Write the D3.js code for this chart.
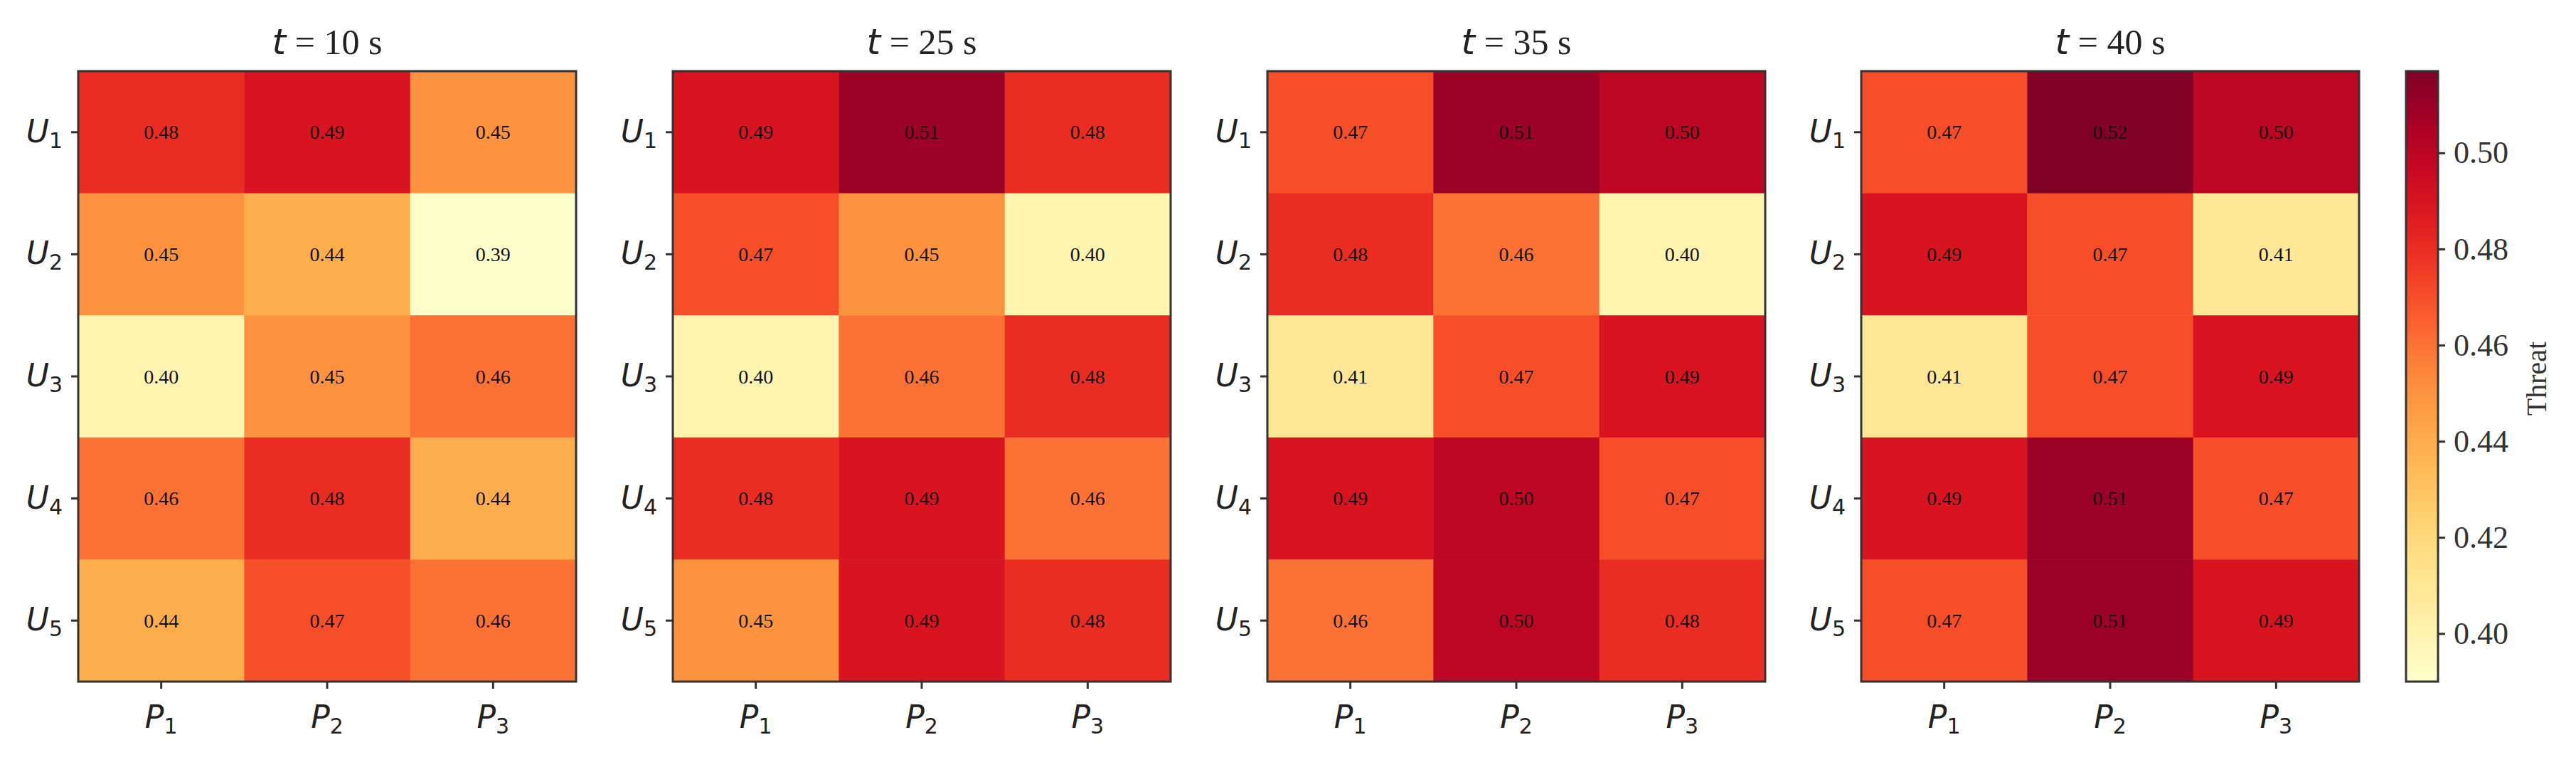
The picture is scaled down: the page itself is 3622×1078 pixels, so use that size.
<!DOCTYPE html>
<html><head><meta charset="utf-8">
<script src="https://cdn.jsdelivr.net/npm/d3@7"></script>
<style>body{margin:0;background:#fff}</style></head>
<body><svg id="c" width="3622" height="1078"></svg>
<script>
const titles = ["10", "25", "35", "40"];
const rows = ["1","2","3","4","5"];
const cols = ["1","2","3"];
const t10 = [[.48,.49,.45],[.45,.44,.39],[.40,.45,.46],[.46,.48,.44],[.44,.47,.46]];
const t25 = [[.49,.51,.48],[.47,.45,.40],[.40,.46,.48],[.48,.49,.46],[.45,.49,.48]];
const t35 = [[.47,.51,.50],[.48,.46,.40],[.41,.47,.49],[.49,.50,.47],[.46,.50,.48]];
const t40 = [[.47,.52,.50],[.49,.47,.41],[.41,.47,.49],[.49,.51,.47],[.47,.51,.49]];
const cbTicks = [0.40,0.42,0.44,0.46,0.48,0.50];
const vmin = 0.39, vmax = 0.517;
const data = [t10,t25,t35,t40];
(function(){
const svg = d3.select("#c");
const color = d3.scaleSequential(d3.interpolateYlOrRd).domain([vmin,vmax]);
const lefts = [110, 946, 1782, 2617], W = 700, top0 = 100, H = 858;
const serif = "'Liberation Serif', 'DejaVu Serif', serif";
data.forEach((m, k) => {
  const g = svg.append("g").attr("transform", `translate(${lefts[k]},${top0})`);
  const x = d3.scaleBand().domain(cols).range([0, W]);
  const y = d3.scaleBand().domain(rows).range([0, H]);
  m.forEach((r, i) => r.forEach((v, j) => {
    g.append("rect").attr("x", x(cols[j])).attr("y", y(rows[i]))
      .attr("width", x.bandwidth()+0.5).attr("height", y.bandwidth()+0.5).attr("fill", color(v));
    g.append("text").attr("x", x(cols[j]) + x.bandwidth()/2).attr("y", y(rows[i]) + y.bandwidth()/2)
      .attr("text-anchor","middle").attr("dominant-baseline","central")
      .attr("font-family", serif).attr("font-size", 28).attr("fill","#111").text(v.toFixed(2));
  }));
  g.append("rect").attr("width", W).attr("height", H).attr("fill","none").attr("stroke","#333").attr("stroke-width",3);
  const ax = g.append("g").attr("transform",`translate(0,${H})`).call(d3.axisBottom(x).tickSize(10).tickFormat(""));
  const ay = g.append("g").call(d3.axisLeft(y).tickSize(10).tickFormat(""));
  [ax, ay].forEach(a => { a.select(".domain").remove(); a.selectAll("line").attr("stroke","#333").attr("stroke-width",3); });
  cols.forEach(c => {
    const t = g.append("text").attr("x", x(c)+x.bandwidth()/2).attr("y", H+65).attr("text-anchor","middle")
      .attr("font-family","'DejaVu Sans', sans-serif").attr("font-style","italic").attr("font-size",44).attr("fill","#222");
    t.append("tspan").text("P");
    t.append("tspan").attr("font-size",30).attr("dy",8).attr("font-style","normal").text(c);
  });
  rows.forEach(r => {
    const t = g.append("text").attr("x", -22).attr("y", y(r)+y.bandwidth()/2+14).attr("text-anchor","end")
      .attr("font-family","'DejaVu Sans', sans-serif").attr("font-style","italic").attr("font-size",44).attr("fill","#222");
    t.append("tspan").text("U");
    t.append("tspan").attr("font-size",30).attr("dy",8).attr("font-style","normal").text(r);
  });
  const tt = g.append("text").attr("x", W/2).attr("y", -24).attr("text-anchor","middle")
    .attr("font-family", serif).attr("font-size", 50).attr("fill","#222");
  tt.append("tspan").attr("font-style","italic").attr("font-family","'DejaVu Sans', sans-serif").text("t");
  tt.append("tspan").text(" = " + titles[k] + " s");
});
const cbx = 3383, cbw = 45;
const cy = d3.scaleLinear().domain([vmin, vmax]).range([top0+H, top0]);
const defs = svg.append("defs");
const grad = defs.append("linearGradient").attr("id","cb").attr("x1",0).attr("y1",1).attr("x2",0).attr("y2",0);
d3.range(0,1.0001,0.05).forEach(t => grad.append("stop").attr("offset",t).attr("stop-color", color(vmin + t*(vmax-vmin))));
svg.append("rect").attr("x",cbx).attr("y",top0).attr("width",cbw).attr("height",H).attr("fill","url(#cb)").attr("stroke","#333").attr("stroke-width",3);
const cax = svg.append("g").attr("transform",`translate(${cbx+cbw},0)`).call(d3.axisRight(cy).tickValues(cbTicks).tickSize(10).tickPadding(12).tickFormat(d3.format(".2f")));
cax.select(".domain").remove();
cax.selectAll("line").attr("stroke","#333").attr("stroke-width",3);
cax.selectAll("text").attr("font-family", serif).attr("font-size",44).attr("fill","#333");
svg.append("text").attr("transform",`translate(3580,532) rotate(-90)`).attr("text-anchor","middle")
  .attr("font-family", serif).attr("font-size",40).attr("fill","#333").text("Threat");
})();
</script></body></html>
